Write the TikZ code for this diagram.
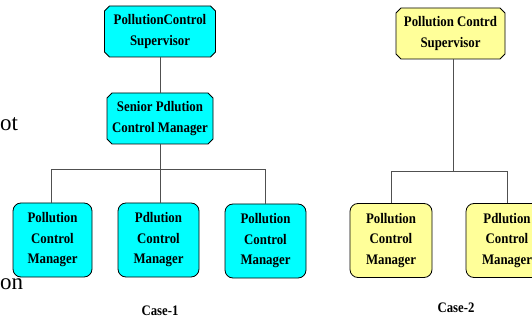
\documentclass[tikz,border=0pt]{standalone}
\usepackage{fontspec}
\setmainfont{Liberation Serif}
\newfontfamily\boxfont{Liberation Serif}[FakeStretch=0.88]
\usetikzlibrary{shapes.misc}
\definecolor{boxcyan}{RGB}{0,255,255}
\definecolor{boxyellow}{RGB}{255,255,153}
\definecolor{linkgray}{RGB}{80,80,80}
\begin{document}
\begin{tikzpicture}[x=1pt,y=-1pt,
  base/.style={draw=black, line width=0.8pt, align=center, inner sep=0pt,
    font=\boxfont\fontsize{14.6}{20.5}\selectfont\bfseries},
  headbox/.style={base, chamfered rectangle, chamfered rectangle xsep=2.5pt,
    chamfered rectangle ysep=2.5pt, minimum height=51pt},
  mgrbox/.style={base, rounded corners=8pt, minimum height=74pt},
  link/.style={draw=linkgray, line width=0.8pt},
  caselabel/.style={font=\boxfont\fontsize{14.5}{16}\selectfont\bfseries},
  bgtext/.style={font=\fontsize{23}{25}\selectfont, inner sep=0pt, anchor=base west}]
\useasboundingbox (0,0) rectangle (532,320);
\begin{scope}
\clip (0,0) rectangle (532,320);
% text of the slide behind the charts
\node[bgtext] (t1) at (0,131) {ot};
\node[bgtext] (t2) at (0,289) {on};

% Case 1
\node[headbox, fill=boxcyan, minimum width=111pt] (sup1) at (160,31.5) {PollutionControl\\Supervisor};
\node[headbox, fill=boxcyan, minimum width=106pt] (sen1) at (160,118.5) {Senior Pdlution\\Control Manager};
\node[mgrbox, fill=boxcyan, minimum width=79pt] (m1) at (52.5,240) {Pollution\\Control\\Manager};
\node[mgrbox, fill=boxcyan, minimum width=81pt] (m2) at (158.5,240) {Pdlution\\Control\\Manager};
\node[mgrbox, fill=boxcyan, minimum width=81pt] (m3) at (265.5,241) {Pollution\\Control\\Manager};
\coordinate (bus1) at (160,169);
\draw[link] (sup1.south) -- (sen1.north);
\draw[link] (sen1.south) -- (bus1);
\draw[link] (bus1) -| ([xshift=-1.5pt]m1.north);
\draw[link] (bus1) -- ([xshift=1.5pt]m2.north);
\draw[link] (bus1) -| (m3.north);
\node[caselabel] (c1) at (160,311) {Case-1};

% Case 2
\node[headbox, fill=boxyellow, minimum width=109pt] (sup2) at (450.5,33.5) {Pollution Contrd\\Supervisor};
\node[mgrbox, fill=boxyellow, minimum width=82pt] (m4) at (391,240.5) {Pollution\\Control\\Manager};
\node[mgrbox, fill=boxyellow, minimum width=82pt] (m5) at (507,240.5) {Pdlution\\Control\\Manager};
\coordinate (bus2) at ([xshift=2.5pt]sup2.south |- 0,171);
\draw[link] ([xshift=2.5pt]sup2.south) -- (bus2);
\draw[link] (bus2) -| (m4.north);
\draw[link] (bus2) -| (m5.north);
\node[caselabel] (c2) at (456,308) {Case-2};
\end{scope}
\end{tikzpicture}
\end{document}
